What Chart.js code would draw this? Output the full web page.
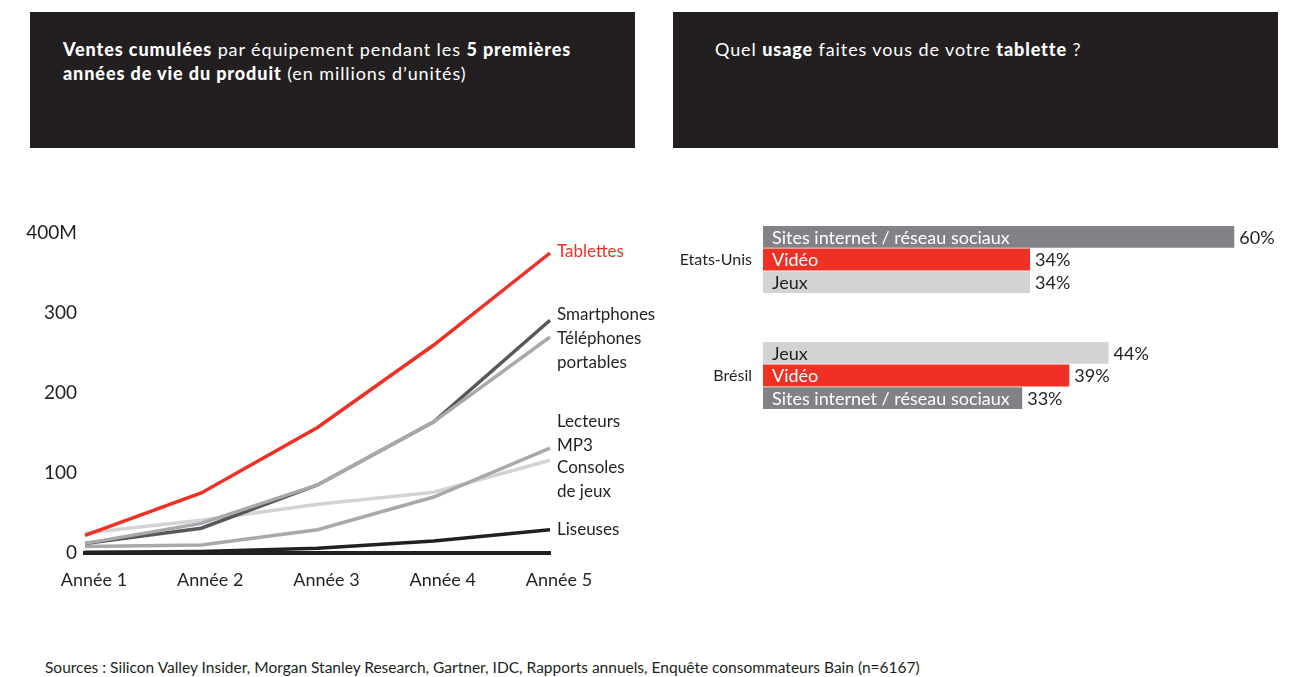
<!DOCTYPE html>
<html lang="fr">
<head>
<meta charset="utf-8">
<title>Ventes cumulées et usages de la tablette</title>
<script src="https://cdn.jsdelivr.net/npm/chart.js@4.4.1/dist/chart.umd.min.js"></script>
<style>
  body { margin: 0; background: #fff; font-family: Lato, sans-serif; color: #231f20;
         width: 1297px; height: 677px; position: relative; overflow: hidden; }
  .bandeau { position: absolute; top: 12px; width: 605px; height: 136px; background: #231f20;
             color: #fff; font-size: 18px; letter-spacing: 0.9px; line-height: 24px; box-sizing: border-box; }
  .bandeau b { font-weight: 900; }
  #bandeauVentes { left: 30px; padding: 25px 0 0 33px; }
  #bandeauUsage { left: 673px; padding: 25px 0 0 42px; }
  #ventes { position: absolute; left: 10px; top: 200px; }
  #usages { position: absolute; left: 673px; top: 190px; }
  #sources { position: absolute; left: 45px; top: 658px; font-size: 15.5px; }
</style>
</head>
<body>
<div class="bandeau" id="bandeauVentes"><b>Ventes cumulées</b> par équipement pendant les <b>5 premières<br>années de vie du produit</b> (en millions d’unités)</div>
<div class="bandeau" id="bandeauUsage">Quel <b>usage</b> faites vous de votre <b>tablette</b> ?</div>
<canvas id="ventes" width="660" height="420"></canvas>
<canvas id="usages" width="620" height="260"></canvas>
<div id="sources">Sources : Silicon Valley Insider, Morgan Stanley Research, Gartner, IDC, Rapports annuels, Enquête consommateurs Bain (n=6167)</div>
<script>
// ventes cumulées, en millions d'unités
const annees = ['Année 1', 'Année 2', 'Année 3', 'Année 4', 'Année 5'];
const tablettes = [22, 75, 157, 260, 375];
const smartphones = [12, 31, 85, 164, 291];
const telephones = [12, 37, 85, 164, 270];
const lecteursMp3 = [8, 10, 29, 70, 131];
const consoles = [25, 41, 61, 76, 116];
const liseuses = [1, 2, 6, 15, 29];
const graduations = [0, 100, 200, 300, 400];

// usages de la tablette, en % des répondants
const pays = ['Etats-Unis', 'Brésil'];
const usagesEtatsUnis = ['Sites internet / réseau sociaux', 'Vidéo', 'Jeux'];
const partsEtatsUnis = [60, 34, 34];
const usagesBresil = ['Jeux', 'Vidéo', 'Sites internet / réseau sociaux'];
const partsBresil = [44, 39, 33];

const NOIR = '#231f20';
const ROUGE = '#ee3124';
const couleursUsage = {
  'Sites internet / réseau sociaux': '#808285',
  'Vidéo': ROUGE,
  'Jeux': '#d1d3d4'
};

Chart.defaults.font.family = 'Lato';
Chart.defaults.color = NOIR;

// nom de la série au bout de chaque courbe
const etiquettesSeries = {
  id: 'etiquettesSeries',
  afterDatasetsDraw(chart) {
    const ctx = chart.ctx;
    ctx.save();
    ctx.font = '17px Lato';
    ctx.textBaseline = 'middle';
    ctx.textAlign = 'left';
    chart.data.datasets.forEach((ds, i) => {
      const pts = chart.getDatasetMeta(i).data;
      const fin = pts[pts.length - 1];
      ctx.fillStyle = ds.couleurTexte || NOIR;
      ds.etiquette.forEach((ligne, k) => {
        ctx.fillText(ligne, fin.x + 7, fin.y + ds.decalage + k * 24);
      });
    });
    ctx.restore();
  }
};

// pays à gauche, libellé dans la barre et pourcentage à droite
const textesBarres = {
  id: 'textesBarres',
  afterDatasetsDraw(chart) {
    const ctx = chart.ctx;
    const axe = chart.scales.y;
    ctx.save();
    ctx.textBaseline = 'middle';
    ctx.font = '16px Lato';
    ctx.textAlign = 'right';
    ctx.fillStyle = NOIR;
    chart.data.labels.forEach((nom, i) => {
      ctx.fillText(nom, chart.chartArea.left - 11, axe.getPixelForValue(i));
    });
    ctx.font = '18px Lato';
    ctx.textAlign = 'left';
    chart.data.datasets.forEach((ds, i) => {
      chart.getDatasetMeta(i).data.forEach((barre, j) => {
        const usage = ds.usages[j];
        ctx.fillStyle = usage === 'Jeux' ? NOIR : '#fff';
        ctx.fillText(usage, barre.base + 9, barre.y + 1);
        ctx.fillStyle = NOIR;
        ctx.fillText(ds.data[j] + '%', barre.x + 5, barre.y + 1);
      });
    });
    ctx.restore();
  }
};

function serie(data, couleur, etiquette, decalage, couleurTexte) {
  return {
    data: data,
    borderColor: couleur,
    borderWidth: 3.5,
    pointRadius: 0,
    tension: 0,
    fill: false,
    etiquette: etiquette,
    decalage: decalage,
    couleurTexte: couleurTexte
  };
}

new Chart(document.getElementById('ventes'), {
  type: 'line',
  data: {
    labels: annees,
    datasets: [
      serie(tablettes, ROUGE, ['Tablettes'], -1, ROUGE),
      serie(telephones, '#a7a9ac', ['Téléphones', 'portables'], 2),
      serie(smartphones, '#58585a', ['Smartphones'], -6),
      serie(lecteursMp3, '#a7a9ac', ['Lecteurs', 'MP3'], -27),
      serie(consoles, '#d1d3d4', ['Consoles', 'de jeux'], 7),
      serie(liseuses, NOIR, ['Liseuses'], 0)
    ]
  },
  options: {
    responsive: false,
    animation: false,
    layout: { padding: { top: 33, right: 120, bottom: 17, left: 0 } },
    plugins: { legend: { display: false }, tooltip: { enabled: false } },
    scales: {
      x: {
        offset: false,
        grid: { display: false, drawTicks: false },
        border: { display: true, color: NOIR, width: 4 },
        ticks: { font: { size: 18 }, padding: 16, labelOffset: 9, maxRotation: 0 },
        afterFit(scale) { scale.height = 50; }
      },
      y: {
        min: 0,
        max: 400,
        grid: { display: false, drawTicks: false },
        border: { display: false },
        afterBuildTicks(scale) { scale.ticks = graduations.map(v => ({ value: v })); },
        ticks: {
          font: { size: 19 },
          padding: 8,
          callback: v => v === 400 ? '400M' : v
        },
        afterFit(scale) { scale.width = 75; }
      }
    }
  },
  plugins: [etiquettesSeries]
});

new Chart(document.getElementById('usages'), {
  type: 'bar',
  data: {
    labels: pays,
    datasets: [0, 1, 2].map(k => ({
      data: [partsEtatsUnis[k], partsBresil[k]],
      usages: [usagesEtatsUnis[k], usagesBresil[k]],
      backgroundColor: [couleursUsage[usagesEtatsUnis[k]], couleursUsage[usagesBresil[k]]],
      barPercentage: 0.97,
      categoryPercentage: 0.585
    }))
  },
  options: {
    indexAxis: 'y',
    responsive: false,
    animation: false,
    layout: { padding: { top: 11.5, right: 43, bottom: 16.5, left: 0 } },
    plugins: { legend: { display: false }, tooltip: { enabled: false } },
    scales: {
      x: { display: false, min: 0, max: 62 },
      y: {
        grid: { display: false, drawTicks: false },
        border: { display: false },
        ticks: { display: false },
        afterFit(scale) { scale.width = 90; }
      }
    }
  },
  plugins: [textesBarres]
});
</script>
</body>
</html>
